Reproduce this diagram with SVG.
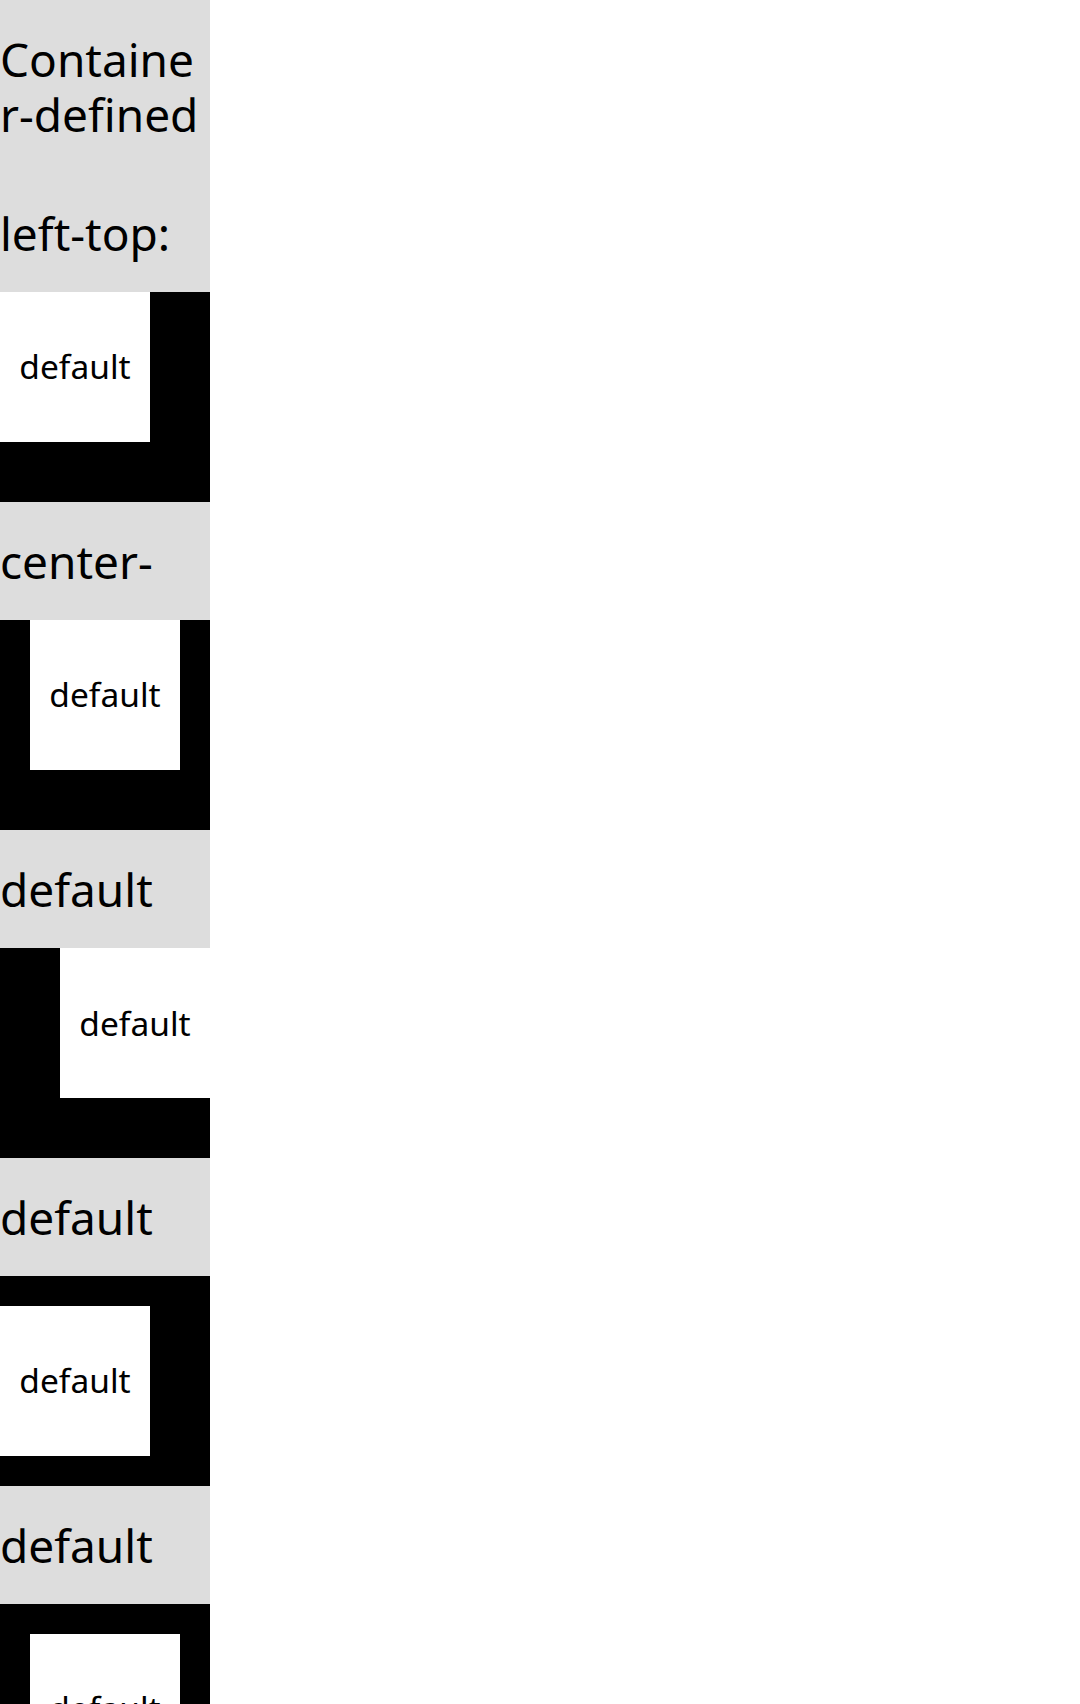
<svg xmlns="http://www.w3.org/2000/svg" width="1080" height="1704" viewBox="0 0 1080 1704">
  <style>
    .hdr { fill: #dddddd; }
    .cont { fill: #000000; }
    .item { fill: #ffffff; }
    .big { font-family: "Noto Sans", "Open Sans", sans-serif; font-size: 46px; fill: #000000; }
    .small { font-family: "Noto Sans", "Open Sans", sans-serif; font-size: 33.5px; fill: #000000; text-anchor: middle; }
  </style>
  <rect x="0" y="0" width="1080" height="1704" fill="#ffffff"/>
  <g id="block-left-top">
    <rect class="hdr" x="0" y="0" width="210" height="292"/>
    <text class="big" x="0" y="77">Containe</text>
    <text class="big" x="0" y="132">r-defined</text>
    <text class="big" x="0" y="251">left-top:</text>
    <rect class="cont" x="0" y="292" width="210" height="210"/>
    <rect class="item" x="0" y="292" width="150" height="150"/>
    <text class="small" x="75" y="379">default</text>
  </g>
  <g id="block-center-top">
    <rect class="hdr" x="0" y="502" width="210" height="118"/>
    <text class="big" x="0" y="579">center-</text>
    <rect class="cont" x="0" y="620" width="210" height="210"/>
    <rect class="item" x="30" y="620" width="150" height="150"/>
    <text class="small" x="105" y="707">default</text>
  </g>
  <g id="block-right-top">
    <rect class="hdr" x="0" y="830" width="210" height="118"/>
    <text class="big" x="0" y="907">default</text>
    <rect class="cont" x="0" y="948" width="210" height="210"/>
    <rect class="item" x="60" y="948" width="150" height="150"/>
    <text class="small" x="135" y="1036">default</text>
  </g>
  <g id="block-left-center">
    <rect class="hdr" x="0" y="1158" width="210" height="118"/>
    <text class="big" x="0" y="1235">default</text>
    <rect class="cont" x="0" y="1276" width="210" height="210"/>
    <rect class="item" x="0" y="1306" width="150" height="150"/>
    <text class="small" x="75" y="1393">default</text>
  </g>
  <g id="block-center-center">
    <rect class="hdr" x="0" y="1486" width="210" height="118"/>
    <text class="big" x="0" y="1563">default</text>
    <rect class="cont" x="0" y="1604" width="210" height="210"/>
    <rect class="item" x="30" y="1634" width="150" height="150"/>
    <text class="small" x="105" y="1721">default</text>
  </g>
</svg>
